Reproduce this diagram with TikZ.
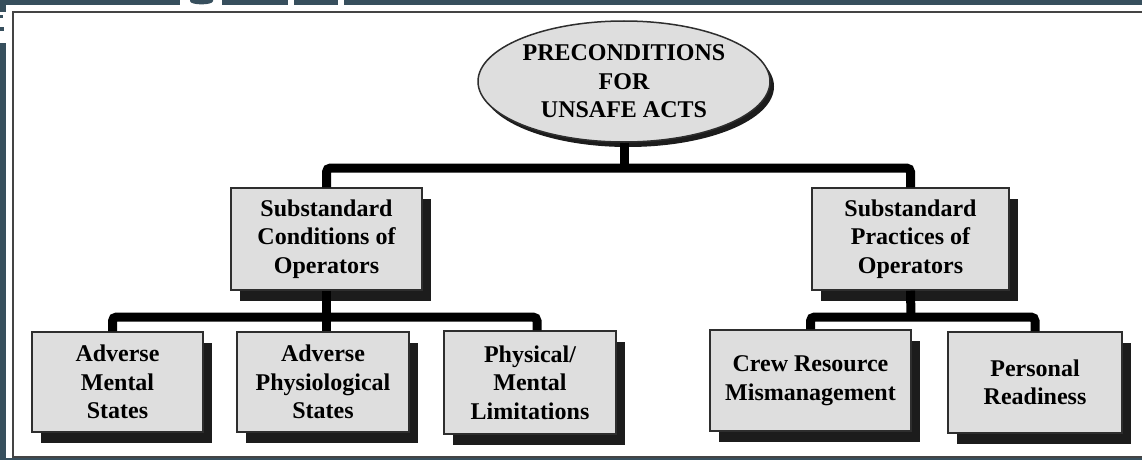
\documentclass[tikz,border=0pt]{standalone}
\usepackage{fontspec}
\setmainfont{Liberation Serif}
\usetikzlibrary{shadows,shapes.geometric}
\definecolor{slate}{HTML}{374F5D}
\definecolor{boxfill}{HTML}{DEDEDE}
\definecolor{edge}{HTML}{2E2E2E}
\definecolor{shade}{HTML}{1C1C1C}
\definecolor{framec}{HTML}{444444}
\begin{document}
\begin{tikzpicture}[x=1pt,y=-1pt,
  every node/.style={font=\fontsize{24}{28.5}\selectfont\bfseries, align=center, inner sep=0pt},
  stepbox/.style={draw=edge, line width=1.5pt, fill=boxfill,
    drop shadow={shadow xshift=9pt, shadow yshift=-11pt, fill=shade, opacity=1}},
  ovalbox/.style={ellipse, draw=edge, line width=1.5pt, fill=boxfill,
    drop shadow={shadow xshift=4pt, shadow yshift=-5pt, fill=shade, opacity=1}},
  conn/.style={line width=9pt, black, rounded corners=4pt}]
\useasboundingbox (0,0) rectangle (1142,460);
% background and frame
\fill[slate] (0,0) rectangle (1142,460);
\fill[white] (6,5) rectangle (1142,458);
\fill[white] (180,0) rectangle (222,5);
\fill[slate] (190,0) -- (213,0) -- (213,1) .. controls (213,5.5) and (190,5.5) .. (190,1) -- cycle;
\fill[white] (288,0) rectangle (294,5);
\fill[white] (338,0) rectangle (344,5);
\fill[white] (0,12) rectangle (6,43);
\fill[slate] (0,15) rectangle (3,18);
\fill[slate] (0,27) rectangle (4,31);
\draw[framec, line width=2pt] (1142,12) -- (12.5,12) -- (12.5,457) -- (1142,457);
% nodes
\node[ovalbox, minimum width=292pt, minimum height=121pt] (pre) at (624,81.5)
  {PRECONDITIONS\\FOR\\UNSAFE ACTS};
\node[stepbox, minimum width=191pt, minimum height=102pt] (cond) at (326.5,239)
  {Substandard\\Conditions of\\Operators};
\node[stepbox, minimum width=197pt, minimum height=102pt] (prac) at (910.5,239)
  {Substandard\\Practices of\\Operators};
\node[stepbox, minimum width=171pt, minimum height=100pt] (am) at (117.5,382)
  {Adverse\\Mental\\States};
\node[stepbox, minimum width=172pt, minimum height=100pt] (ap) at (323,382)
  {Adverse\\Physiological\\States};
\node[stepbox, minimum width=172pt, minimum height=103pt] (pm) at (530,382.5)
  {Physical/\\Mental\\Limitations};
\node[stepbox, minimum width=201pt, minimum height=101pt] (crew) at (810.5,380.5)
  {Crew Resource\\Mismanagement};
\node[stepbox, minimum width=174pt, minimum height=101pt] (pers) at (1035,382.5)
  {Personal\\Readiness};
% connectors
\coordinate (j1) at (624,168);
\coordinate (j2) at (325.5,317);
\coordinate (j3) at (911,317);
\draw[conn] (pre.south) -- (j1);
\draw[conn] (cond.north) |- (j1) -| (prac.north);
\draw[conn] (cond.south) -- (cond.south |- ap.north);
\draw[conn] ([xshift=-5pt]am.north) |- (j2) -| ([xshift=7pt]pm.north);
\draw[conn] (prac.south) -- (j3);
\draw[conn] (crew.north) |- (j3) -| (pers.north);
\end{tikzpicture}
\end{document}
